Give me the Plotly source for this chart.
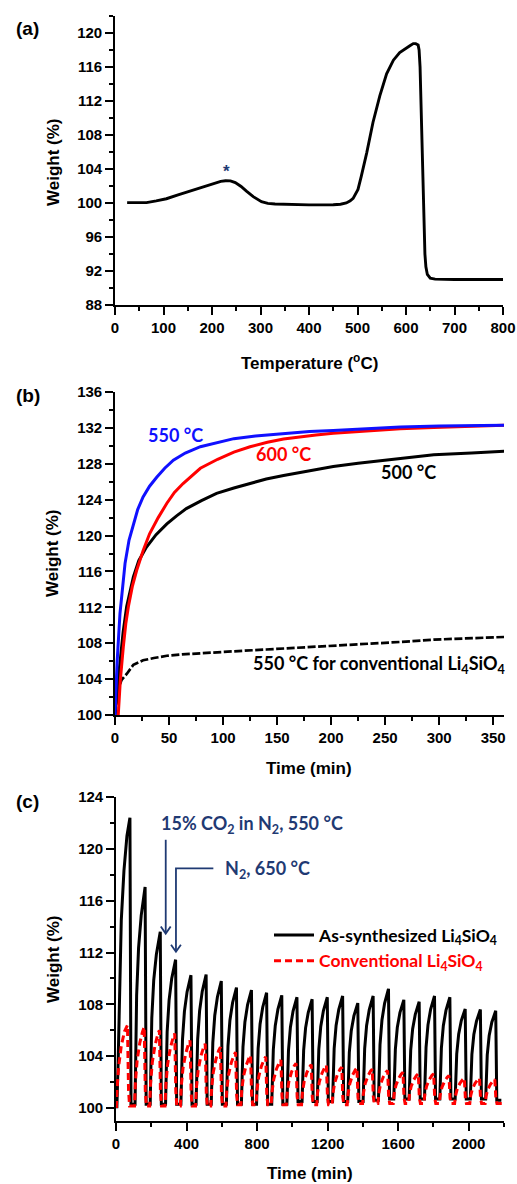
import plotly.graph_objects as go

# ---------------- Panel (a): TGA of as-synthesized material ----------------
temp_a = [25, 45, 65, 85, 106, 130, 161, 185, 203, 218, 228, 238, 248, 260, 271, 285, 302, 315,
          330, 361, 400, 450, 465, 477, 485, 491, 497, 501, 508, 519, 532, 546, 560, 574, 587,
          600, 608, 615, 620, 625, 627, 629, 631, 633, 635, 637, 639, 641, 644, 650, 660, 700, 750, 800]
weight_a = [100.05, 100.03, 100.05, 100.25, 100.5, 100.95, 101.5, 101.95, 102.3, 102.55, 102.62,
            102.6, 102.4, 101.95, 101.4, 100.75, 100.15, 99.95, 99.88, 99.8, 99.78, 99.8, 99.85,
            100.0, 100.25, 100.55, 101.1, 101.6, 103.2, 105.9, 109.5, 112.6, 115.2, 116.8, 117.7,
            118.25, 118.5, 118.75, 118.75, 118.6, 118.0, 116.0, 112.0, 106.5, 101.5, 97.0, 94.0,
            92.5, 91.6, 91.15, 91.05, 91.0, 91.0, 91.0]
star_a = (229, 103.65)

# ---------------- Panel (b): isothermal sorption ----------------
t_550 = [0, 2, 4.6, 7, 9.3, 13, 17, 21, 26, 32, 38.6, 46, 54, 65, 79, 95, 110, 130, 156, 180,
         202, 230, 264, 300, 330, 361]
w_550 = [100, 106, 111.3, 114.6, 116.9, 119.5, 121.3, 122.9, 124.3, 125.5, 126.5, 127.5, 128.4,
         129.2, 129.9, 130.4, 130.8, 131.1, 131.4, 131.6, 131.7, 131.9, 132.1, 132.2, 132.25, 132.3]
t_600 = [3, 5, 7.7, 10, 12.4, 16, 20, 26, 32, 40, 48, 55, 63, 71, 79, 95, 110, 125, 141, 156,
         171, 186, 202, 230, 264, 295, 326, 361]
w_600 = [100, 104, 107.6, 110.2, 112.1, 114.3, 116.1, 118.3, 120.2, 122.0, 123.6, 124.8, 125.8,
         126.7, 127.5, 128.5, 129.3, 129.9, 130.4, 130.75, 131.0, 131.2, 131.4, 131.65, 131.9,
         132.05, 132.2, 132.3]
t_500 = [0, 2, 4.6, 7.5, 10.8, 14, 17, 22, 29, 38, 48, 57, 66, 80, 94, 110, 125, 140, 156, 180,
         202, 225, 249, 272, 295, 330, 361]
w_500 = [100, 103, 105.8, 109.2, 112.1, 114.0, 115.4, 117.2, 118.7, 120.1, 121.3, 122.2, 123.0,
         123.9, 124.7, 125.3, 125.8, 126.3, 126.7, 127.25, 127.7, 128.05, 128.4, 128.7, 129.0,
         129.2, 129.4]
t_conv = [0, 1.5, 3, 6, 11, 17, 26, 36, 48, 62, 79, 95, 110, 140, 171, 200, 233, 265, 295, 330, 361]
w_conv = [100, 101.8, 102.8, 103.9, 104.6, 105.6, 106.1, 106.35, 106.6, 106.75, 106.9, 107.0,
          107.1, 107.3, 107.5, 107.7, 107.9, 108.15, 108.4, 108.55, 108.7]

# ---------------- Panel (c): cyclic sorption/desorption ----------------
t_cyc_as = [
    0, 5, 12, 20, 30, 45, 62, 79, 85,
    108, 111, 117, 128, 143, 165, 171,
    194, 197, 203, 214, 229, 251, 257,
    281, 284, 290, 301, 316, 338, 344,
    368, 371, 377, 388, 403, 425, 431,
    454, 457, 463, 474, 489, 511, 517,
    540, 543, 549, 560, 575, 597, 603,
    626, 629, 635, 646, 661, 683, 689,
    711, 714, 720, 731, 746, 768, 774,
    797, 800, 806, 817, 832, 854, 860,
    883, 886, 892, 903, 918, 940, 946,
    969, 972, 978, 989, 1004, 1026, 1032,
    1055, 1058, 1064, 1075, 1090, 1112, 1118,
    1141, 1144, 1150, 1161, 1176, 1198, 1204,
    1228, 1231, 1237, 1248, 1263, 1285, 1291,
    1314, 1317, 1323, 1334, 1349, 1371, 1377,
    1401, 1404, 1410, 1421, 1436, 1458, 1464,
    1488, 1491, 1497, 1508, 1523, 1545, 1551,
    1575, 1578, 1584, 1595, 1610, 1632, 1638,
    1662, 1665, 1671, 1682, 1697, 1719, 1725,
    1749, 1752, 1758, 1769, 1784, 1806, 1812,
    1836, 1839, 1845, 1856, 1871, 1893, 1899,
    1923, 1926, 1932, 1943, 1958, 1980, 1986,
    2009, 2012, 2018, 2029, 2044, 2066, 2072,
    2096, 2099, 2105, 2116, 2131, 2153, 2159, 2185,
]
w_cyc_as = [
    100.1, 100.1, 103.5, 109.0, 114.5, 118.3, 121.0, 122.4, 100.3,
    100.3, 105.33, 108.68, 112.36, 114.87, 117.05, 100.3,
    100.3, 104.29, 106.95, 109.88, 111.87, 113.6, 100.3,
    100.3, 103.65, 105.88, 108.33, 110.0, 111.45, 100.3,
    100.3, 103.29, 105.28, 107.46, 108.96, 110.25, 100.3,
    100.3, 103.3, 105.3, 107.5, 109.0, 110.3, 100.3,
    100.3, 103.15, 105.05, 107.14, 108.57, 109.8, 100.3,
    100.3, 103.0, 104.8, 106.78, 108.13, 109.3, 100.3,
    100.3, 102.94, 104.7, 106.64, 107.96, 109.1, 100.3,
    100.3, 102.88, 104.6, 106.49, 107.78, 108.9, 100.3,
    100.3, 102.82, 104.5, 106.35, 107.61, 108.7, 100.3,
    100.3, 102.78, 104.43, 106.24, 107.48, 108.55, 100.5,
    100.5, 102.87, 104.45, 106.19, 107.37, 108.4, 100.5,
    100.5, 102.92, 104.53, 106.3, 107.5, 108.55, 100.5,
    100.5, 102.95, 104.58, 106.37, 107.59, 108.65, 100.5,
    100.5, 102.78, 104.3, 105.97, 107.11, 108.1, 100.5,
    100.5, 102.95, 104.58, 106.37, 107.59, 108.65, 100.6,
    100.6, 103.18, 104.9, 106.79, 108.08, 109.2, 100.7,
    100.7, 103.0, 104.53, 106.21, 107.36, 108.35, 100.7,
    100.7, 102.95, 104.45, 106.1, 107.23, 108.2, 100.7,
    100.7, 103.09, 104.68, 106.42, 107.62, 108.65, 100.7,
    100.7, 103.06, 104.63, 106.35, 107.53, 108.55, 100.7,
    100.7, 102.79, 104.18, 105.7, 106.75, 107.65, 100.7,
    100.7, 102.77, 104.15, 105.67, 106.7, 107.6, 100.7,
    100.7, 102.74, 104.1, 105.6, 106.62, 107.5, 100.6, 100.6,
]
t_cyc_conv = [
    2, 6, 15, 30, 48, 65, 71, 77,
    105, 110, 120, 135, 150, 160, 166, 172,
    191, 196, 206, 221, 236, 246, 252, 258,
    278, 283, 293, 308, 323, 333, 339, 345,
    365, 370, 380, 395, 410, 420, 426, 432,
    451, 456, 466, 481, 496, 506, 512, 518,
    537, 542, 552, 567, 582, 592, 598, 604,
    623, 628, 638, 653, 668, 678, 684, 690,
    708, 713, 723, 738, 753, 763, 769, 775,
    794, 799, 809, 824, 839, 849, 855, 861,
    880, 885, 895, 910, 925, 935, 941, 947,
    966, 971, 981, 996, 1011, 1021, 1027, 1033,
    1052, 1057, 1067, 1082, 1097, 1107, 1113, 1119,
    1138, 1143, 1153, 1168, 1183, 1193, 1199, 1205,
    1225, 1230, 1240, 1255, 1270, 1280, 1286, 1292,
    1311, 1316, 1326, 1341, 1356, 1366, 1372, 1378,
    1398, 1403, 1413, 1428, 1443, 1453, 1459, 1465,
    1485, 1490, 1500, 1515, 1530, 1540, 1546, 1552,
    1572, 1577, 1587, 1602, 1617, 1627, 1633, 1639,
    1659, 1664, 1674, 1689, 1704, 1714, 1720, 1726,
    1746, 1751, 1761, 1776, 1791, 1801, 1807, 1813,
    1833, 1838, 1848, 1863, 1878, 1888, 1894, 1900,
    1920, 1925, 1935, 1950, 1965, 1975, 1981, 1987,
    2006, 2011, 2021, 2036, 2051, 2061, 2067, 2073,
    2093, 2098, 2108, 2123, 2138, 2148, 2154, 2160, 2190,
]
w_cyc_conv = [
    100.0, 101.5, 103.2, 104.8, 105.9, 106.4, 101.4, 100.15,
    100.15, 101.98, 103.69, 105.03, 105.88, 106.25, 101.37, 100.15,
    100.15, 101.9, 103.54, 104.83, 105.65, 106.0, 101.32, 100.15,
    100.15, 101.83, 103.4, 104.63, 105.41, 105.75, 101.27, 100.15,
    100.15, 101.67, 103.08, 104.19, 104.9, 105.2, 101.16, 100.15,
    100.15, 101.59, 102.93, 103.99, 104.66, 104.95, 101.11, 100.15,
    100.15, 101.52, 102.79, 103.79, 104.43, 104.7, 101.06, 100.15,
    100.15, 101.4, 102.56, 103.47, 104.05, 104.3, 100.98, 100.25,
    100.25, 101.39, 102.45, 103.29, 103.82, 104.05, 101.01, 100.25,
    100.25, 101.36, 102.4, 103.21, 103.73, 103.95, 100.99, 100.25,
    100.25, 101.29, 102.25, 103.01, 103.49, 103.7, 100.94, 100.25,
    100.25, 101.21, 102.11, 102.81, 103.26, 103.45, 100.89, 100.25,
    100.25, 101.18, 102.05, 102.73, 103.16, 103.35, 100.87, 100.25,
    100.25, 101.17, 102.02, 102.69, 103.12, 103.3, 100.86, 100.25,
    100.25, 101.12, 101.93, 102.57, 102.98, 103.15, 100.83, 100.25,
    100.25, 101.11, 101.9, 102.53, 102.93, 103.1, 100.82, 100.35,
    100.35, 101.15, 101.89, 102.47, 102.84, 103.0, 100.88, 100.35,
    100.35, 101.12, 101.83, 102.39, 102.75, 102.9, 100.86, 100.35,
    100.35, 101.07, 101.74, 102.27, 102.61, 102.75, 100.83, 100.35,
    100.35, 101.04, 101.68, 102.19, 102.51, 102.65, 100.81, 100.35,
    100.35, 101.04, 101.68, 102.19, 102.51, 102.65, 100.81, 100.35,
    100.35, 100.99, 101.6, 102.07, 102.37, 102.5, 100.78, 100.35,
    100.35, 100.94, 101.48, 101.91, 102.18, 102.3, 100.74, 100.35,
    100.35, 100.94, 101.48, 101.91, 102.18, 102.3, 100.74, 100.35,
    100.35, 100.91, 101.42, 101.83, 102.09, 102.2, 100.72, 100.35, 100.35,
]

NAVY = "#1f3a73"
BLUE = "#1010ff"
RED = "#ff0000"
AX_FONT = dict(family="Liberation Sans, Arial, sans-serif", size=15, color="black", weight="bold")
TITLE_FONT = dict(family="Liberation Sans, Arial, sans-serif", size=17, color="black", weight="bold")
LBL_FONT = "Lato, Carlito, Calibri, sans-serif"

FW, FH = 517, 1184


def px(x):
    return x / FW


def py(y):
    return 1 - y / FH


fig = go.Figure()

# panel a
fig.add_trace(go.Scatter(x=temp_a, y=weight_a, mode="lines", line=dict(color="black", width=2.9),
                         showlegend=False, xaxis="x", yaxis="y"))
# panel b
fig.add_trace(go.Scatter(x=t_conv, y=w_conv, mode="lines",
                         line=dict(color="black", width=2.7, dash="8px,2.5px"),
                         showlegend=False, xaxis="x2", yaxis="y2"))
fig.add_trace(go.Scatter(x=t_500, y=w_500, mode="lines", line=dict(color="black", width=3),
                         showlegend=False, xaxis="x2", yaxis="y2"))
fig.add_trace(go.Scatter(x=t_600, y=w_600, mode="lines", line=dict(color=RED, width=3),
                         showlegend=False, xaxis="x2", yaxis="y2"))
fig.add_trace(go.Scatter(x=t_550, y=w_550, mode="lines", line=dict(color=BLUE, width=3),
                         showlegend=False, xaxis="x2", yaxis="y2"))
# panel c
fig.add_trace(go.Scatter(x=t_cyc_as, y=w_cyc_as, mode="lines", line=dict(color="black", width=3),
                         name="As-synthesized Li<sub>4</sub>SiO<sub>4</sub>",
                         xaxis="x3", yaxis="y3"))
fig.add_trace(go.Scatter(x=t_cyc_conv, y=w_cyc_conv, mode="lines",
                         line=dict(color=RED, width=3, dash="7px,4px"),
                         name="<span style='color:#ff0000'>Conventional Li<sub>4</sub>SiO<sub>4</sub></span>",
                         xaxis="x3", yaxis="y3"))


def xax(domain, rng, dtick, mdtick, anchor):
    return dict(domain=domain, range=rng, anchor=anchor, showline=True, linecolor="black",
                linewidth=1.6, ticks="outside", ticklen=8, tickwidth=1.5, tickcolor="black",
                dtick=dtick, tick0=0, tickfont=AX_FONT, showgrid=False, zeroline=False,
                minor=dict(dtick=mdtick, tick0=0, ticks="outside", ticklen=4, tickwidth=1.5,
                           tickcolor="black", showgrid=False))


def yax(domain, rng, tick0, anchor):
    return dict(domain=domain, range=rng, anchor=anchor, showline=True, linecolor="black",
                linewidth=1.6, ticks="outside", ticklen=8, tickwidth=1.5, tickcolor="black",
                dtick=4, tick0=tick0, tickfont=AX_FONT, showgrid=False, zeroline=False,
                minor=dict(dtick=2, tick0=tick0, ticks="outside", ticklen=4, tickwidth=1.5,
                           tickcolor="black", showgrid=False))


fig.update_layout(
    width=FW, height=FH,
    margin=dict(l=0, r=0, t=0, b=0, autoexpand=False),
    paper_bgcolor="white", plot_bgcolor="white",
    xaxis=xax([px(115), px(503)], [0, 800], 100, 50, "y"),
    yaxis=yax([py(305), py(16)], [88, 122], 88, "x"),
    xaxis2=xax([px(115), px(504)], [0, 360], 50, 25, "y2"),
    yaxis2=yax([py(715), py(392)], [100, 136], 100, "x2"),
    xaxis3=xax([px(116), px(504)], [0, 2200], 400, 200, "y3"),
    yaxis3=yax([py(1121), py(797)], [99, 124], 100, "x3"),
    legend=dict(x=px(269), y=py(917), xanchor="left", yanchor="top",
                bgcolor="rgba(0,0,0,0)", tracegroupgap=0, itemwidth=40,
                font=dict(family=LBL_FONT, size=17.5, color="black", weight="bold")),
)

ann = []


def A(**kw):
    kw.setdefault("xanchor", "center")
    kw.setdefault("yanchor", "middle")
    kw.setdefault("showarrow", False)
    ann.append(kw)


# panel labels
for lab, yy in [("(a)", 28), ("(b)", 396), ("(c)", 801)]:
    A(text=lab, x=px(27.5), y=py(yy), xref="paper", yref="paper",
      font=dict(family="Liberation Sans, Arial", size=19, color="black", weight="bold"))
# axis titles
for yy in [162, 553, 959]:
    A(text="Weight (%)", x=px(53), y=py(yy), xref="paper", yref="paper",
      textangle=-90, font=TITLE_FONT)
A(text="Temperature (<sup>o</sup>C)", x=px(309), y=py(362), xref="paper", yref="paper",
  font=TITLE_FONT)
A(text="Time (min)", x=px(309), y=py(768), xref="paper", yref="paper", font=TITLE_FONT)
A(text="Time (min)", x=px(310), y=py(1173), xref="paper", yref="paper", font=TITLE_FONT)
# panel a star
A(text="*", x=star_a[0], y=star_a[1], xref="x", yref="y",
  font=dict(family="Liberation Sans, Arial", size=17, color=NAVY, weight="bold"))
# panel b labels
lb = dict(family=LBL_FONT, size=18, weight="bold")
A(text="550 °C", x=55.6, y=131.2, xref="x2", yref="y2", font=dict(lb, color=BLUE))
A(text="600 °C", x=156, y=129.1, xref="x2", yref="y2", font=dict(lb, color=RED))
A(text="500 °C", x=272, y=127.1, xref="x2", yref="y2", font=dict(lb, color="black"))
A(text="550 °C for conventional Li<sub>4</sub>SiO<sub>4</sub>", x=359.9, y=105.6,
  xref="x2", yref="y2", xanchor="right", xshift=3, font=dict(lb, color="black"))
# panel c annotations
A(text="15% CO<sub>2</sub> in N<sub>2</sub>, 550 °C", x=770, y=121.9, xref="x3",
  yref="y3", font=dict(lb, color=NAVY))
A(text="N<sub>2</sub>, 650 °C", x=605, y=118.4, xref="x3", yref="y3",
  xanchor="left", font=dict(lb, color=NAVY))

shapes = [
    dict(type="line", xref="x3", yref="y3", x0=282, x1=282, y0=120.7, y1=113.5,
         line=dict(color=NAVY, width=1.8)),
    dict(type="path", xref="x3", yref="y3", path="M 254,114.0 L 282,113.46 L 310,114.0",
         line=dict(color=NAVY, width=1.8)),
    dict(type="path", xref="x3", yref="y3", path="M 552,118.5 L 340,118.5 L 340,112.1",
         line=dict(color=NAVY, width=1.8)),
    dict(type="path", xref="x3", yref="y3", path="M 312,112.6 L 340,112.06 L 368,112.6",
         line=dict(color=NAVY, width=1.8)),
]

fig.update_layout(annotations=ann, shapes=shapes)
# remove the default 8px page margin so the 517x1184 figure fills the window exactly
fig.write_html("out.html", config={"displayModeBar": False},
               post_script="document.body.style.margin='0';document.body.style.overflow='hidden';")
